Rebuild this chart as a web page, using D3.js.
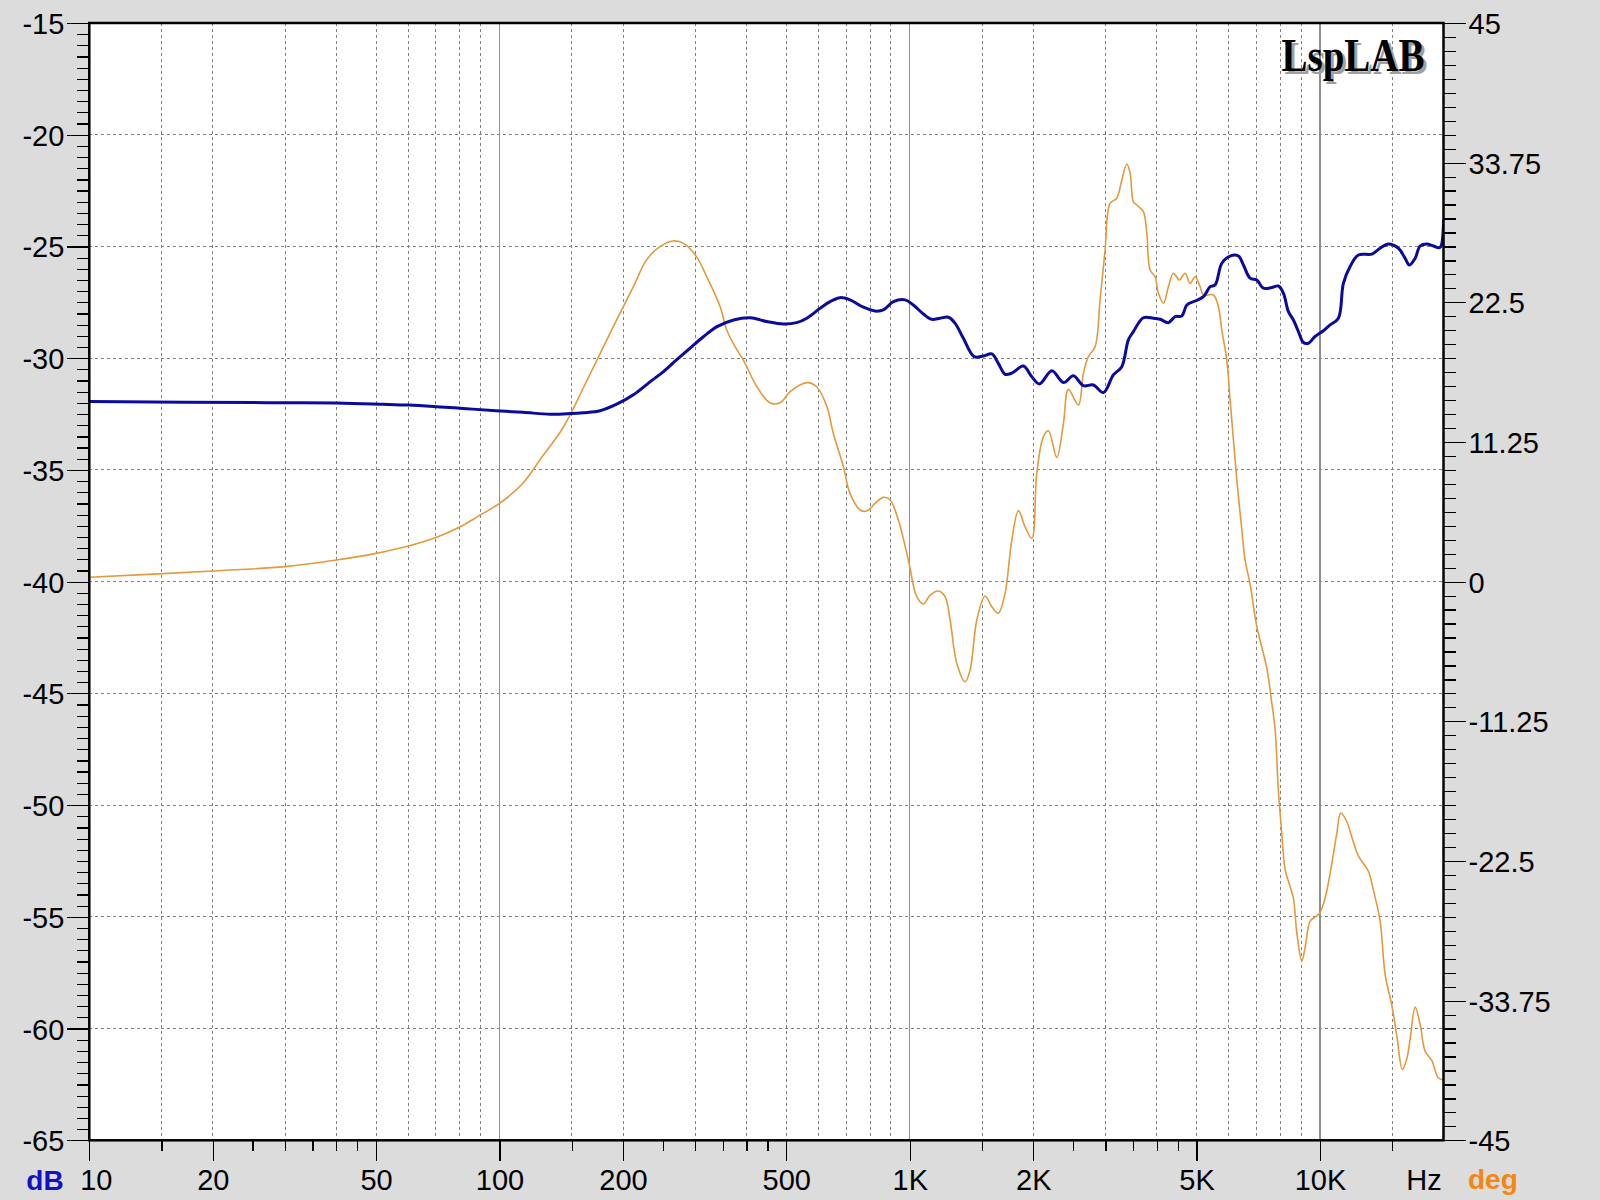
<!DOCTYPE html>
<html><head><meta charset="utf-8">
<script src="https://cdn.jsdelivr.net/npm/d3@7"></script>
<style>html,body{margin:0;padding:0;background:#dcdcdc;}svg{display:block;}</style>
</head><body>
<svg id="chart" width="1600" height="1200"></svg>
<script>
// ---------- data ----------
const magFreq = [10,27,40,52,60,70,83,98,114,133,149,160,176,193,212,233,251,270,291,314,339,372,408,448,492,530,561,604,639,676,715,771,823,862,912,974,1020,1079,1131,1186,1242,1290,1351,1435,1512,1585,1644,1707,1773,1892,1984,2070,2220,2369,2505,2650,2803,2965,3135,3287,3411,3508,3710,3925,4076,4270,4435,4604,4735,4961,5198,5397,5551,5763,6037,6326,6506,6754,7013,7278,7628,7917,8142,8375,8613,8859,9110,9370,9727,10192,10583,11088,11402,11840,12404,13379,14015,14682,15528,16124,16519,17057,17539,18212,18900,19622,20000];
const magDb = [-31.94,-31.99,-32.00,-32.06,-32.10,-32.17,-32.26,-32.35,-32.42,-32.51,-32.48,-32.44,-32.35,-32.06,-31.64,-31.05,-30.60,-30.08,-29.56,-29.04,-28.59,-28.29,-28.19,-28.36,-28.47,-28.41,-28.21,-27.77,-27.47,-27.29,-27.39,-27.72,-27.89,-27.84,-27.47,-27.39,-27.62,-28.02,-28.26,-28.21,-28.17,-28.44,-29.11,-29.93,-29.90,-29.81,-30.23,-30.72,-30.67,-30.35,-30.83,-31.15,-30.56,-31.09,-30.79,-31.23,-31.20,-31.54,-30.75,-30.38,-29.18,-28.81,-28.19,-28.21,-28.26,-28.41,-28.14,-28.11,-27.62,-27.44,-27.25,-26.80,-26.72,-25.75,-25.43,-25.43,-25.83,-26.42,-26.50,-26.87,-26.84,-26.77,-27.09,-27.92,-28.29,-28.81,-29.30,-29.33,-29.03,-28.77,-28.51,-28.21,-26.65,-25.90,-25.38,-25.34,-25.08,-24.89,-25.08,-25.53,-25.83,-25.53,-24.98,-24.89,-24.98,-25.04,-23.80];

const phaseFreq = [10,20,30,40,50,60,70,80,89,100,114,127,140,149,160,176,193,212,228,246,265,281,302,320,345,358,375,393,424,456,483,511,561,593,628,651,689,715,757,786,823,862,895,938,992,1040,1079,1121,1174,1219,1254,1302,1364,1403,1457,1526,1585,1644,1707,1773,1840,1910,1984,2040,2117,2178,2282,2369,2436,2576,2650,2725,2830,2910,2993,3078,3196,3287,3381,3445,3508,3576,3710,3783,3853,3963,4038,4153,4270,4392,4543,4690,4823,4961,5101,5198,5497,5653,5763,5926,6037,6151,6270,6448,6568,6754,7013,7420,7628,7773,7917,8070,8220,8454,8613,8778,9028,9195,9461,9727,10000,10290,10686,10990,11237,11622,11953,12404,13122,13496,14015,14413,14962,15388,15880,16276,16579,17057,17539,18040,18734,19437,20000];
const phaseDeg = [0.35,0.86,1.21,1.74,2.28,2.87,3.55,4.40,5.30,6.30,7.92,10.06,11.95,13.5,15.6,18.39,21.08,23.76,25.9,26.98,27.44,27.25,26.18,24.56,22.15,20.27,18.93,17.85,15.70,14.41,14.41,15.30,16.03,15.70,14.10,11.95,9.26,7.11,5.77,5.69,6.31,6.79,6.60,4.96,1.74,-1.21,-1.80,-1.08,-0.75,-1.21,-3.09,-6.58,-8.06,-7.12,-3.09,-1.16,-2.02,-2.55,-0.94,3.35,5.72,4.42,3.49,8.73,11.68,12.16,10.01,12.75,15.49,14.23,16.78,18.12,18.93,22.69,26.71,30.48,30.88,32.35,33.64,32.89,30.60,30.34,29.80,28.06,25.10,24.56,23.23,22.42,23.76,24.84,24.30,24.84,24.03,24.56,23.76,23.09,23.09,22.15,20.27,17.85,14.63,11.41,8.19,4.16,1.74,-0.20,-3.60,-6.99,-9.76,-11.92,-16.86,-20.25,-23.17,-24.56,-25.49,-28.27,-30.57,-29.50,-27.34,-27.02,-26.66,-25.49,-22.71,-20.25,-18.64,-19.32,-20.56,-22.09,-23.33,-24.87,-27.34,-31.65,-34.12,-36.58,-39.30,-38.43,-36.89,-34.27,-35.66,-37.82,-38.59,-39.98,-40.13];

const xMajorTicks = [10,20,50,100,200,500,1000,2000,5000,10000];
const xTickLabels = ["10","20","50","100","200","500","1K","2K","5K","10K"];
const xMinorTicks = [15,25,30,35,40,45,150,250,300,350,400,450,1500,2500,3000,3500,4000,4500,15000];
const decadeGrid = [100,1000,10000];
const dashedGrid = [15,20,30,40,50,60,70,80,90,150,200,300,400,500,600,700,800,900,1500,2000,3000,4000,5000,6000,7000,8000,9000,15000];
const dbTicks = [-65,-60,-55,-50,-45,-40,-35,-30,-25,-20,-15];
const degTicks = [-45,-33.75,-22.5,-11.25,0,11.25,22.5,33.75,45];

// ---------- layout ----------
const P = {l:89.3, r:1443.5, t:23, b:1140.3};
const FONT = "'Liberation Sans', Arial, sans-serif";
const svg = d3.select("#chart");
const x = d3.scaleLog().domain([10,20000]).range([P.l,P.r]);
const yL = d3.scaleLinear().domain([-65,-15]).range([P.b,P.t]);
const yR = d3.scaleLinear().domain([-45,45]).range([P.b,P.t]);

svg.append("rect").attr("width",1600).attr("height",1200).attr("fill","#dcdcdc");
svg.append("rect").attr("x",P.l).attr("y",P.t).attr("width",P.r-P.l).attr("height",P.b-P.t).attr("fill","#ffffff");

// grid
const g = svg.append("g").attr("shape-rendering","crispEdges");
g.selectAll(".hg").data(dbTicks.slice(1,-1)).join("line")
  .attr("x1",P.l).attr("x2",P.r).attr("y1",d=>yL(d)).attr("y2",d=>yL(d))
  .attr("stroke","#808080").attr("stroke-width",1).attr("stroke-dasharray","3,3");
g.selectAll(".vg").data(dashedGrid).join("line")
  .attr("x1",d=>x(d)).attr("x2",d=>x(d)).attr("y1",P.t).attr("y2",P.b)
  .attr("stroke","#808080").attr("stroke-width",1).attr("stroke-dasharray","3,3");
g.selectAll(".dg").data(decadeGrid).join("line")
  .attr("x1",d=>x(d)).attr("x2",d=>x(d)).attr("y1",P.t).attr("y2",P.b)
  .attr("stroke","#909090").attr("stroke-width",1.2);

// clip
svg.append("clipPath").attr("id","clip").append("rect")
  .attr("x",P.l).attr("y",P.t).attr("width",P.r-P.l).attr("height",P.b-P.t);

const phaseLine = d3.line().x(d=>x(d[0])).y(d=>yR(d[1])).curve(d3.curveCatmullRom.alpha(0.5));
const magLine = d3.line().x(d=>x(d[0])).y(d=>yL(d[1])).curve(d3.curveCatmullRom.alpha(0.5));

svg.append("path").attr("clip-path","url(#clip)")
  .attr("d", phaseLine(phaseFreq.map((f,i)=>[f,phaseDeg[i]])))
  .attr("fill","none").attr("stroke","#e39a3c").attr("stroke-width",1.6);
svg.append("path").attr("clip-path","url(#clip)")
  .attr("d", magLine(magFreq.map((f,i)=>[f,magDb[i]])))
  .attr("fill","none").attr("stroke","#0a0a9c").attr("stroke-width",3).attr("stroke-linejoin","round");

// logo
const logo = svg.append("g").attr("font-family","'Liberation Serif','Times New Roman',serif")
  .attr("font-weight","bold").attr("font-size",46);
logo.append("text").attr("x",1284.5).attr("y",74).attr("fill","#a0a0a0")
  .attr("textLength",143).attr("lengthAdjust","spacingAndGlyphs").text("LspLAB");
logo.append("text").attr("x",1281.5).attr("y",71).attr("fill","#000")
  .attr("textLength",143).attr("lengthAdjust","spacingAndGlyphs").text("LspLAB");

// axes
function styleAxis(sel){
  sel.select(".domain").remove();
  sel.selectAll("line").attr("stroke","#000").attr("stroke-width",1.2).attr("shape-rendering","crispEdges");
  sel.selectAll("text").attr("font-family",FONT).attr("font-size",29).attr("fill","#000");
}
const leftMinor = d3.range(-65,-14.99,0.5).filter(v=>Math.abs(v%5)>0.01);
svg.append("g").attr("transform",`translate(${P.l},0)`)
  .call(d3.axisLeft(yL).tickValues(leftMinor).tickSize(12).tickFormat("")).call(styleAxis);
svg.append("g").attr("transform",`translate(${P.l},0)`)
  .call(d3.axisLeft(yL).tickValues(dbTicks).tickSize(22).tickPadding(3).tickFormat(d=>String(d))).call(styleAxis)
  .selectAll("text").attr("dy","0.36em");

const rightMinor = d3.range(0,81).map(i=>-45+i*1.125).filter((v,i)=>i%10!==0);
svg.append("g").attr("transform",`translate(${P.r},0)`)
  .call(d3.axisRight(yR).tickValues(rightMinor).tickSize(12).tickFormat("")).call(styleAxis);
svg.append("g").attr("transform",`translate(${P.r},0)`)
  .call(d3.axisRight(yR).tickValues(degTicks).tickSize(22).tickPadding(3).tickFormat(d=>String(d))).call(styleAxis)
  .selectAll("text").attr("dy","0.36em");

svg.append("g").attr("transform",`translate(0,${P.b})`)
  .call(d3.axisBottom(x).tickValues(xMinorTicks).tickSize(11).tickFormat("")).call(styleAxis);
const bx = svg.append("g").attr("transform",`translate(0,${P.b})`)
  .call(d3.axisBottom(x).tickValues(xMajorTicks).tickSize(21).tickPadding(8).tickFormat((d,i)=>xTickLabels[i])).call(styleAxis);
bx.selectAll("text").filter((d,i)=>i===0).attr("dx",6.5);

// unit labels
svg.append("text").attr("x",1424).attr("y",1190).attr("text-anchor","middle")
  .attr("font-family",FONT).attr("font-size",29).attr("fill","#000").text("Hz");
svg.append("text").attr("x",45).attr("y",1190).attr("text-anchor","middle")
  .attr("font-family",FONT).attr("font-size",28).attr("font-weight","bold").attr("fill","#1212c4").text("dB");
svg.append("text").attr("x",1468).attr("y",1189).attr("text-anchor","start")
  .attr("font-family",FONT).attr("font-size",28).attr("font-weight","bold").attr("fill","#f5860f").text("deg");

// frame
svg.append("rect").attr("x",P.l).attr("y",P.t).attr("width",P.r-P.l).attr("height",P.b-P.t)
  .attr("fill","none").attr("stroke","#000").attr("stroke-width",2.5);
</script>
</body></html>
